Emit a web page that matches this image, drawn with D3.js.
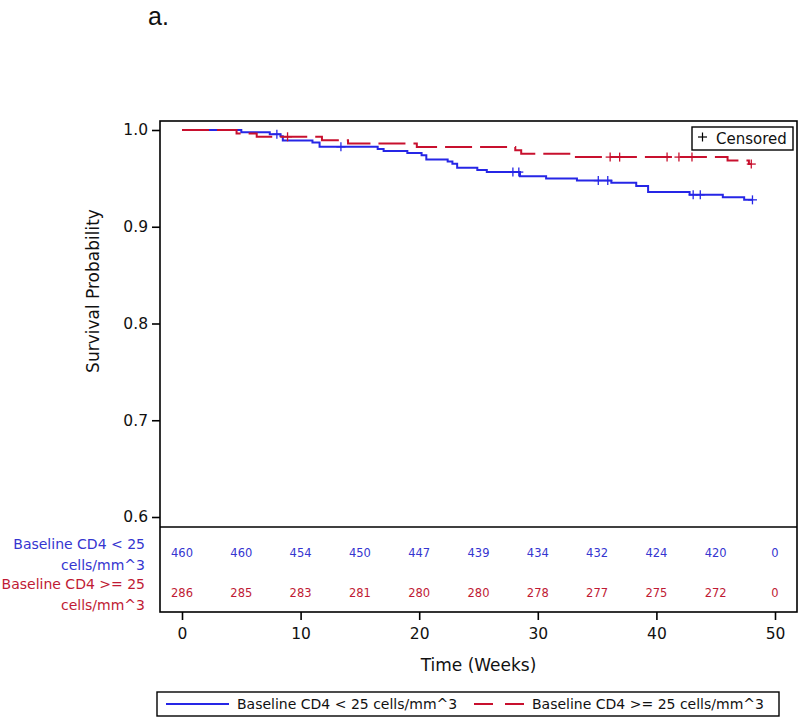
<!DOCTYPE html>
<html><head><meta charset="utf-8">
<script src="https://cdn.jsdelivr.net/npm/d3@7"></script>
<style>body{margin:0;background:#fff}</style>
</head><body>
<svg id="c" width="800" height="717"></svg>
<script>
// ---------- data ----------
const panelLabel = "a.";
const seriesNames = ["Baseline CD4 < 25 cells/mm^3", "Baseline CD4 >= 25 cells/mm^3"];
const tableLabelsLow = ["Baseline CD4 < 25", "cells/mm^3"];
const tableLabelsHigh = ["Baseline CD4 >= 25", "cells/mm^3"];

const lowStepTimes = [0, 5.0, 7.4, 8.3, 8.5, 11.0, 11.6, 16.5, 17.0, 19.0, 20.2, 20.6, 22.4, 22.8, 23.2, 24.9, 25.7, 28.5, 30.7, 33.3, 36.2, 38.3, 39.3, 42.8, 45.6, 47.4];
const lowStepSurv  = [1.0, 0.9978, 0.9957, 0.9935, 0.9891, 0.9870, 0.9826, 0.9804, 0.9783, 0.9761, 0.9739, 0.9696, 0.9674, 0.9652, 0.9609, 0.9587, 0.9565, 0.9521, 0.9499, 0.9477, 0.9455, 0.9420, 0.9360, 0.9330, 0.9305, 0.9278];
const lowEndTime = 48.1;
const lowCensorTimes = [8.0, 13.4, 27.9, 28.4, 35.1, 35.9, 43.1, 43.7, 48.1];

const highStepTimes = [0, 4.6, 6.3, 11.8, 14.0, 19.8, 28.1, 28.6, 33.0, 46.0, 47.8];
const highStepSurv  = [1.0, 0.9965, 0.9930, 0.9895, 0.9860, 0.9825, 0.9790, 0.9755, 0.9720, 0.9684, 0.9648];
const highEndTime = 48.0;
const highCensorTimes = [8.9, 36.1, 36.9, 40.9, 41.9, 43.0, 48.0];

const riskTimes = [0, 5, 10, 15, 20, 25, 30, 35, 40, 45, 50];
const riskLow  = [460, 460, 454, 450, 447, 439, 434, 432, 424, 420, 0];
const riskHigh = [286, 285, 283, 281, 280, 280, 278, 277, 275, 272, 0];

const xTicks = [0, 10, 20, 30, 40, 50];
const yTicks = [0.6, 0.7, 0.8, 0.9, 1.0];
const xTitle = "Time (Weeks)";
const yTitle = "Survival Probability";
const censorLabel = "Censored";

// ---------- styles ----------
const FONT = "DejaVu Sans";
const BLUE = "#2626e6";
const RED = "#c8102e";
const BLUE_T = "#3535d0";
const RED_T = "#c01a34";

const svg = d3.select("#c");
const frame = {left: 160, right: 797, top: 121, sep: 527, bottom: 612};

const x = d3.scaleLinear().domain([0, 50]).range([182, 775]);
const y = d3.scaleLinear().domain([0.6, 1.0]).range([517, 130]);

// panel label
svg.append("text").attr("x", 148).attr("y", 25).attr("font-family", "Liberation Sans")
  .attr("font-size", 25).attr("fill", "#111").text(panelLabel);

// curves
function stepPoints(times, surv, endT) {
  const pts = times.map((t, i) => [t, surv[i]]);
  pts.push([endT, surv[surv.length - 1]]);
  return pts;
}
function survAt(times, surv, t) {
  const i = d3.bisectRight(times, t) - 1;
  return surv[Math.max(0, i)];
}
const line = d3.line().x(d => x(d[0])).y(d => y(d[1])).curve(d3.curveStepAfter);

svg.append("defs").append("clipPath").attr("id", "pc").append("rect")
  .attr("x", frame.left).attr("y", frame.top).attr("width", frame.right - frame.left).attr("height", frame.sep - frame.top);
const gPlot = svg.append("g").attr("clip-path", "url(#pc)");

gPlot.append("path").datum(stepPoints(lowStepTimes, lowStepSurv, lowEndTime))
  .attr("d", line).attr("fill", "none").attr("stroke", BLUE).attr("stroke-width", 2);
gPlot.append("path").datum(stepPoints(highStepTimes, highStepSurv, highEndTime))
  .attr("d", line).attr("fill", "none").attr("stroke", RED).attr("stroke-width", 2)
  .attr("stroke-dasharray", "27,8");

function censorMarks(times, st, ss, color) {
  const g = gPlot.append("g").attr("stroke", color).attr("stroke-width", 1.3);
  times.forEach(t => {
    const cx = x(t), cy = y(survAt(st, ss, t));
    g.append("line").attr("x1", cx - 4.5).attr("x2", cx + 4.5).attr("y1", cy).attr("y2", cy);
    g.append("line").attr("x1", cx).attr("x2", cx).attr("y1", cy - 4.5).attr("y2", cy + 4.5);
  });
}
censorMarks(lowCensorTimes, lowStepTimes, lowStepSurv, BLUE);
censorMarks(highCensorTimes, highStepTimes, highStepSurv, RED);

// frame and separator
svg.append("rect").attr("x", frame.left).attr("y", frame.top)
  .attr("width", frame.right - frame.left).attr("height", frame.bottom - frame.top)
  .attr("fill", "none").attr("stroke", "#000").attr("stroke-width", 1.6);
svg.append("line").attr("x1", frame.left).attr("x2", frame.right)
  .attr("y1", frame.sep).attr("y2", frame.sep).attr("stroke", "#000").attr("stroke-width", 1.4);

// y axis
const yAxis = d3.axisLeft(y).tickValues(yTicks).tickFormat(d3.format(".1f")).tickSize(8).tickPadding(4);
const gy = svg.append("g").attr("transform", `translate(${frame.left},0)`).call(yAxis);
gy.select(".domain").remove();
gy.selectAll("line").attr("stroke", "#000").attr("stroke-width", 1.6);
gy.selectAll("text").attr("font-family", FONT).attr("font-size", 15.5).attr("fill", "#111");

// x axis
const xAxis = d3.axisBottom(x).tickValues(xTicks).tickFormat(d3.format("d")).tickSize(8).tickPadding(8);
const gx = svg.append("g").attr("transform", `translate(0,${frame.bottom})`).call(xAxis);
gx.select(".domain").remove();
gx.selectAll("line").attr("stroke", "#000").attr("stroke-width", 1.6);
gx.selectAll("text").attr("font-family", FONT).attr("font-size", 15.5).attr("fill", "#111");

// titles
svg.append("text").attr("x", x(25)).attr("y", 671).attr("text-anchor", "middle")
  .attr("font-family", FONT).attr("font-size", 17).attr("fill", "#111").text(xTitle);
svg.append("text").attr("transform", "translate(99,291) rotate(-90)").attr("text-anchor", "middle")
  .attr("font-family", FONT).attr("font-size", 17).attr("fill", "#111").text(yTitle);

// at-risk table
const gr = svg.append("g").attr("font-family", FONT).attr("font-size", 11.5).attr("text-anchor", "middle");
riskTimes.forEach((t, i) => {
  gr.append("text").attr("x", x(t)).attr("y", 557).attr("fill", BLUE_T).text(riskLow[i]);
  gr.append("text").attr("x", x(t)).attr("y", 597).attr("fill", RED_T).text(riskHigh[i]);
});
const gl = svg.append("g").attr("font-family", FONT).attr("font-size", 14).attr("text-anchor", "end");
gl.append("text").attr("x", 145).attr("y", 549).attr("fill", BLUE_T).text(tableLabelsLow[0]);
gl.append("text").attr("x", 145).attr("y", 570).attr("fill", BLUE_T).text(tableLabelsLow[1]);
gl.append("text").attr("x", 145).attr("y", 589).attr("fill", RED_T).text(tableLabelsHigh[0]);
gl.append("text").attr("x", 145).attr("y", 610).attr("fill", RED_T).text(tableLabelsHigh[1]);

// censored legend (inset)
const gc = svg.append("g");
gc.append("rect").attr("x", 692).attr("y", 127).attr("width", 101).attr("height", 23)
  .attr("fill", "#fff").attr("stroke", "#000").attr("stroke-width", 1.4);
gc.append("line").attr("x1", 698).attr("x2", 707).attr("y1", 137).attr("y2", 137).attr("stroke", "#000").attr("stroke-width", 1.2);
gc.append("line").attr("x1", 702.5).attr("x2", 702.5).attr("y1", 132.5).attr("y2", 141.5).attr("stroke", "#000").attr("stroke-width", 1.2);
gc.append("text").attr("x", 716).attr("y", 144).attr("font-family", FONT).attr("font-size", 15).attr("fill", "#111").text(censorLabel);

// bottom legend
const lg = svg.append("g");
lg.append("rect").attr("x", 157).attr("y", 692).attr("width", 622).attr("height", 24)
  .attr("fill", "#fff").attr("stroke", "#000").attr("stroke-width", 1.4);
lg.append("line").attr("x1", 166).attr("x2", 229).attr("y1", 704).attr("y2", 704).attr("stroke", BLUE).attr("stroke-width", 2);
lg.append("text").attr("x", 237).attr("y", 709).attr("font-family", FONT).attr("font-size", 14).attr("fill", "#111").text(seriesNames[0]);
lg.append("line").attr("x1", 474).attr("x2", 524).attr("y1", 704).attr("y2", 704).attr("stroke", RED).attr("stroke-width", 2).attr("stroke-dasharray", "19,12");
lg.append("text").attr("x", 532).attr("y", 709).attr("font-family", FONT).attr("font-size", 14).attr("fill", "#111").text(seriesNames[1]);
</script>
</body></html>
